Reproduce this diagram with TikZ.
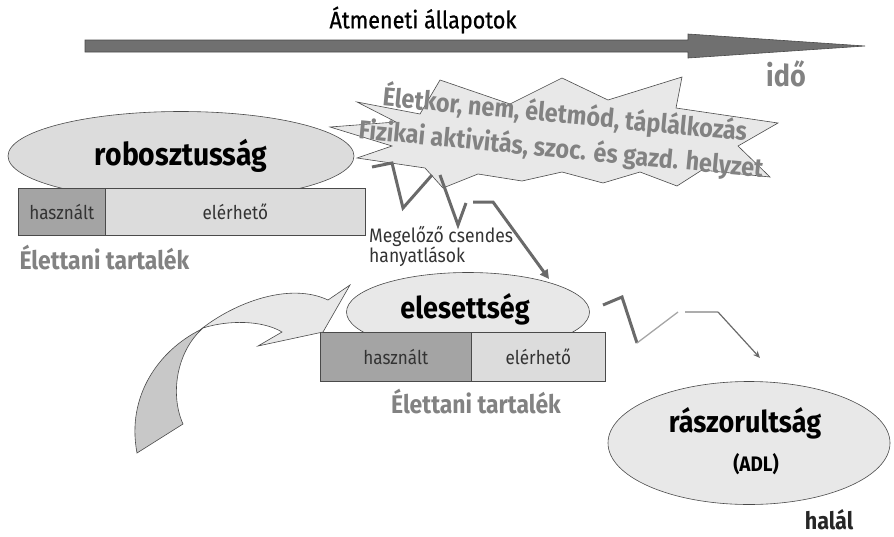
\documentclass[tikz,border=0pt]{standalone}
\usepackage{fontspec}
\setmainfont{Fira Sans}
\newfontfamily\cf[FakeStretch=0.9]{Fira Sans}
\newfontfamily\cfmed[FakeStretch=0.9,FakeBold=0.8]{Fira Sans}
\usetikzlibrary{shapes.geometric,arrows.meta}
\definecolor{arrowfill}{HTML}{707070}
\definecolor{arrowline}{HTML}{4A4A4A}
\definecolor{burstfill}{HTML}{E8E8E8}
\definecolor{ellfill}{HTML}{DCDCDC}
\definecolor{ellfillb}{HTML}{E8E8E8}
\definecolor{tailfill}{HTML}{C8C8C8}
\definecolor{bardark}{HTML}{A4A4A4}
\definecolor{barlight}{HTML}{DCDCDC}
\definecolor{graytext}{HTML}{828282}
\definecolor{zigcol}{HTML}{6A6A6A}
\definecolor{darktext}{HTML}{333333}
\tikzset{
  outl/.style={draw=arrowline, line width=0.6pt},
  ellbox/.style={ellipse, outl, inner sep=0pt},
  bardk/.style={rectangle, outl, fill=bardark, anchor=north west, inner sep=0pt, text=darktext, font=\cf\fontsize{19}{21}\selectfont},
  barlt/.style={rectangle, outl, fill=barlight, anchor=north west, inner sep=0pt, text=darktext, font=\cf\fontsize{19}{21}\selectfont},
  reserve/.style={text=graytext, font=\cf\bfseries\fontsize{25.5}{27}\selectfont},
  zig/.style={draw=zigcol, line width=3pt, line join=miter},
  burststyle/.style={fill=burstfill, draw=arrowline, line width=0.6pt},
  bursttext/.style={text=graytext, font=\cf\bfseries\fontsize{26}{28}\selectfont, rotate=-5.5, inner sep=0pt}
}
\begin{document}
\begin{tikzpicture}[x=1pt,y=-1pt]
\useasboundingbox (0,0) rectangle (894,536);

% time arrow
\draw[fill=arrowfill, draw=arrowline, line width=0.6pt]
  (85,40) -- (688,40) -- (688,34) -- (865,46) -- (688,58) -- (688,52) -- (85,52) -- cycle;
\node[font=\cfmed\fontsize{24}{26}\selectfont] (title) at (423,20) {Átmeneti állapotok};
\node[font=\cf\bfseries\fontsize{30}{32}\selectfont, text=graytext] (ido) at (786,74) {idő};

% robustness ellipse and bar
\node[ellbox, fill=ellfill, minimum width=346, minimum height=89] (rob) at (181,156) {};
\node[font=\cf\bfseries\fontsize{31.5}{33}\selectfont] (robt) at (181,156) {robosztusság};
\node[bardk, minimum width=87, minimum height=47] (used1) at (18,188) {használt};
\node[barlt, minimum width=260, minimum height=47] (avail1) at (105,188) {elérhető};
\node[reserve, anchor=north west] (res1) at (16,242) {Élettani tartalék};

% starburst
\draw[burststyle]
  (357,102) -- (420,114) -- (440,80) -- (510,104) -- (562,78) -- (608,100) -- (682,77)
  -- (676,108) -- (778,123) -- (738,146) -- (770,177) -- (702,170) -- (677,186)
  -- (640,172) -- (603,183) -- (562,172) -- (522,181) -- (478,174) -- (443,188)
  -- (425,168) -- (357,158) -- (392,146) -- (330,127) -- (396,122) -- cycle;
\node[bursttext] (b1) at (565,114) {Életkor, nem, életmód, táplálkozás};
\node[bursttext] (b2) at (561,150) {Fizikai aktivitás, szoc. és gazd. helyzet};

% silent declines
\coordinate (za0) at (372,167);
\coordinate (za3) at (432,175);
\draw[zig] (za0) -- (392,163) -- (403,208) -- (za3);
\coordinate (zb0) at (440,175);
\coordinate (zb2) at (466,203);
\draw[zig] (zb0) -- (458,225) -- (zb2);
\coordinate (zc0) at (473,202);
\coordinate (zc2) at (549,279);
\draw[zig, -{Triangle[length=9pt,width=9pt]}] (zc0) -- (493,202) -- (zc2);
\node[anchor=north west, align=left, text=darktext, inner sep=0pt,
  font=\cf\fontsize{19.5}{20}\selectfont] (silent) at (369,226) {Megelőző csendes\\hanyatlások};

% frailty ellipse and bar
\node[ellbox, fill=ellfillb, minimum width=243, minimum height=79] (frail) at (468,312) {};
\node[font=\cf\bfseries\fontsize{30}{32}\selectfont] (frailt) at (465,309) {elesettség};
\node[bardk, minimum width=151, minimum height=49] (used2) at (320,332) {használt};
\node[barlt, minimum width=134, minimum height=49] (avail2) at (471,332) {elérhető};
\node[reserve] (res2) at (476,402) {Élettani tartalék};

% curved 3D arrow
\draw[outl, fill=tailfill]
  (200,330) .. controls (160,350) and (126,395) .. (137,453) -- (183,424)
  .. controls (170,395) and (176,352) .. (203,328) -- cycle;
\draw[outl, fill=ellfillb]
  (200,330) .. controls (235,302) and (290,282) .. (328,300) -- (350,285) -- (323,332)
  -- (258,346) -- (282,332) .. controls (262,320) and (228,320) .. (203,328) -- cycle;

% to dependency
\coordinate (zd0) at (603,305);
\coordinate (zd2) at (637,343);
\coordinate (zd3) at (678,312);
\draw[zig] (zd0) -- (622,297) -- (zd2);
\draw[draw=zigcol!60, line width=1.3pt] (zd2) -- (zd3);
\coordinate (ze0) at (685,312);
\coordinate (ze2) at (760,358);
\draw[draw=zigcol!55, line width=1.3pt] (ze0) -- (718,312);
\draw[draw=zigcol, line width=1.2pt, -{Stealth[length=7pt,width=6pt]}] (718,312) -- (ze2);

% dependency ellipse
\node[ellbox, fill=ellfillb, minimum width=282, minimum height=123] (dep) at (749,443) {};
\node[font=\cf\bfseries\fontsize{30}{32}\selectfont] (dept) at (745,423) {rászorultság};
\node[font=\cf\bfseries\fontsize{21}{23}\selectfont] (adl) at (756,464) {(ADL)};
\node[font=\cf\bfseries\fontsize{24}{26}\selectfont, text=black!85] (death) at (829,520) {halál};
\end{tikzpicture}
\end{document}
